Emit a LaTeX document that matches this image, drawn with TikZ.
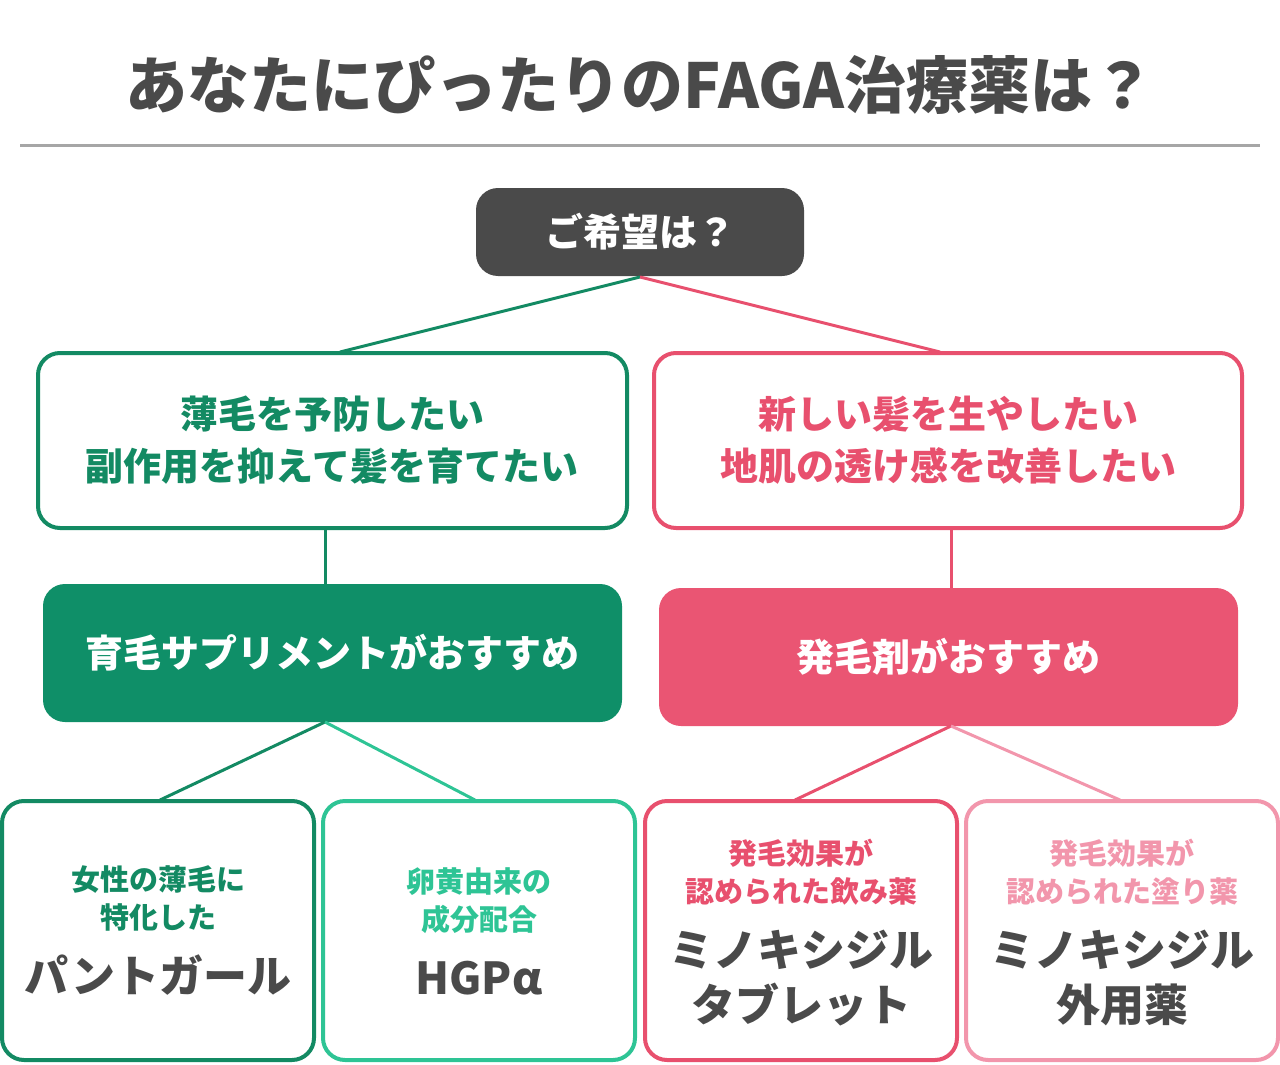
\documentclass[tikz,border=0pt]{standalone}
\usepackage{fontspec}
\setmainfont{Noto Sans CJK JP}
\usepackage{tikz}
\usetikzlibrary{positioning}
\definecolor{ink}{HTML}{4A4A4A}
\definecolor{grn}{HTML}{138A63}
\definecolor{grnfill}{HTML}{0F8F68}
\definecolor{lgrn}{HTML}{2EC495}
\definecolor{pnk}{HTML}{E8506E}
\definecolor{pnkfill}{HTML}{EA5573}
\definecolor{lpnk}{HTML}{F296AC}
\tikzset{
  outbox/.style={draw=#1, line width=4pt, fill=white, rounded corners=22pt},
  fillbox/.style={fill=#1, rounded corners=22pt},
  link/.style={draw=#1, line width=3pt},
  txt/.style={text=#1, font=\bfseries\fontsize{38}{52}\selectfont, align=center},
  small/.style={text=#1, font=\bfseries\fontsize{29}{38}\selectfont, align=center},
  big/.style={text=ink, font=\bfseries\fontsize{44}{55}\selectfont, align=center}
}
\begin{document}
\begin{tikzpicture}[x=1pt,y=-1pt]
\useasboundingbox (0,0) rectangle (1280,1065);
% title
\node[text=ink, font=\bfseries\fontsize{62}{70}\selectfont] (title) at (640,85) {あなたにぴったりのFAGA治療薬は？};
\draw[color=black!35, line width=3pt] (20,145) coordinate (rl) -- (1260,145) coordinate (rr);
% boxes
\fill[fillbox=ink] (476,188) rectangle (804,276);
\node[txt=white] (top) at (640,232) {ご希望は？};
\draw[outbox=grn] (38,353) rectangle (627,528);
\draw[outbox=pnk] (654,353) rectangle (1242,528);
\node[txt=grn] (wantL) at (332,440) {薄毛を予防したい\\副作用を抑えて髪を育てたい};
\node[txt=pnk] (wantR) at (948,440) {新しい髪を生やしたい\\地肌の透け感を改善したい};
\fill[fillbox=grnfill] (43,584) rectangle (622,722);
\fill[fillbox=pnkfill] (659,588) rectangle (1238,726);
\node[txt=white] (recL) at (332,653) {育毛サプリメントがおすすめ};
\node[txt=white] (recR) at (948,657) {発毛剤がおすすめ};
\draw[outbox=grn] (2,801) rectangle (314,1060);
\draw[outbox=lgrn] (323,801) rectangle (635,1060);
\draw[outbox=pnk] (645,801) rectangle (957,1060);
\draw[outbox=lpnk] (966,801) rectangle (1278,1060);
% connectors
\coordinate (topb) at (640,277);
\coordinate (wLt) at (340,352); \coordinate (wRt) at (940,352);
\coordinate (wLb) at (325,528); \coordinate (rLt) at (325,584);
\coordinate (wRb) at (951,528); \coordinate (rRt) at (951,588);
\coordinate (rLb) at (325,722); \coordinate (rRb) at (951,726);
\coordinate (b1) at (160,800); \coordinate (b2) at (475,800);
\coordinate (b3) at (795,800); \coordinate (b4) at (1120,800);
\draw[link=grn] (topb) -- (wLt);
\draw[link=pnk] (topb) -- (wRt);
\draw[link=grn] (wLb) -- (rLt);
\draw[link=pnk] (wRb) -- (rRt);
\draw[link=grn] (rLb) -- (b1);
\draw[link=lgrn] (rLb) -- (b2);
\draw[link=pnk] (rRb) -- (b3);
\draw[link=lpnk] (rRb) -- (b4);
% bottom texts
\node[small=grn] (p1) at (158,898) {女性の薄毛に\\特化した};
\node[big] (n1) at (158,975) {パントガール};
\node[small=lgrn] (p2) at (479,901) {卵黄由来の\\成分配合};
\node[big] (n2) at (479,978) {HGP\textit{α}};
\node[small=pnk] (p3) at (801,872) {発毛効果が\\認められた飲み薬};
\node[big] (n3) at (801,978) {ミノキシジル\\タブレット};
\node[small=lpnk] (p4) at (1122,872) {発毛効果が\\認められた塗り薬};
\node[big] (n4) at (1122,978) {ミノキシジル\\外用薬};
\end{tikzpicture}
\end{document}
